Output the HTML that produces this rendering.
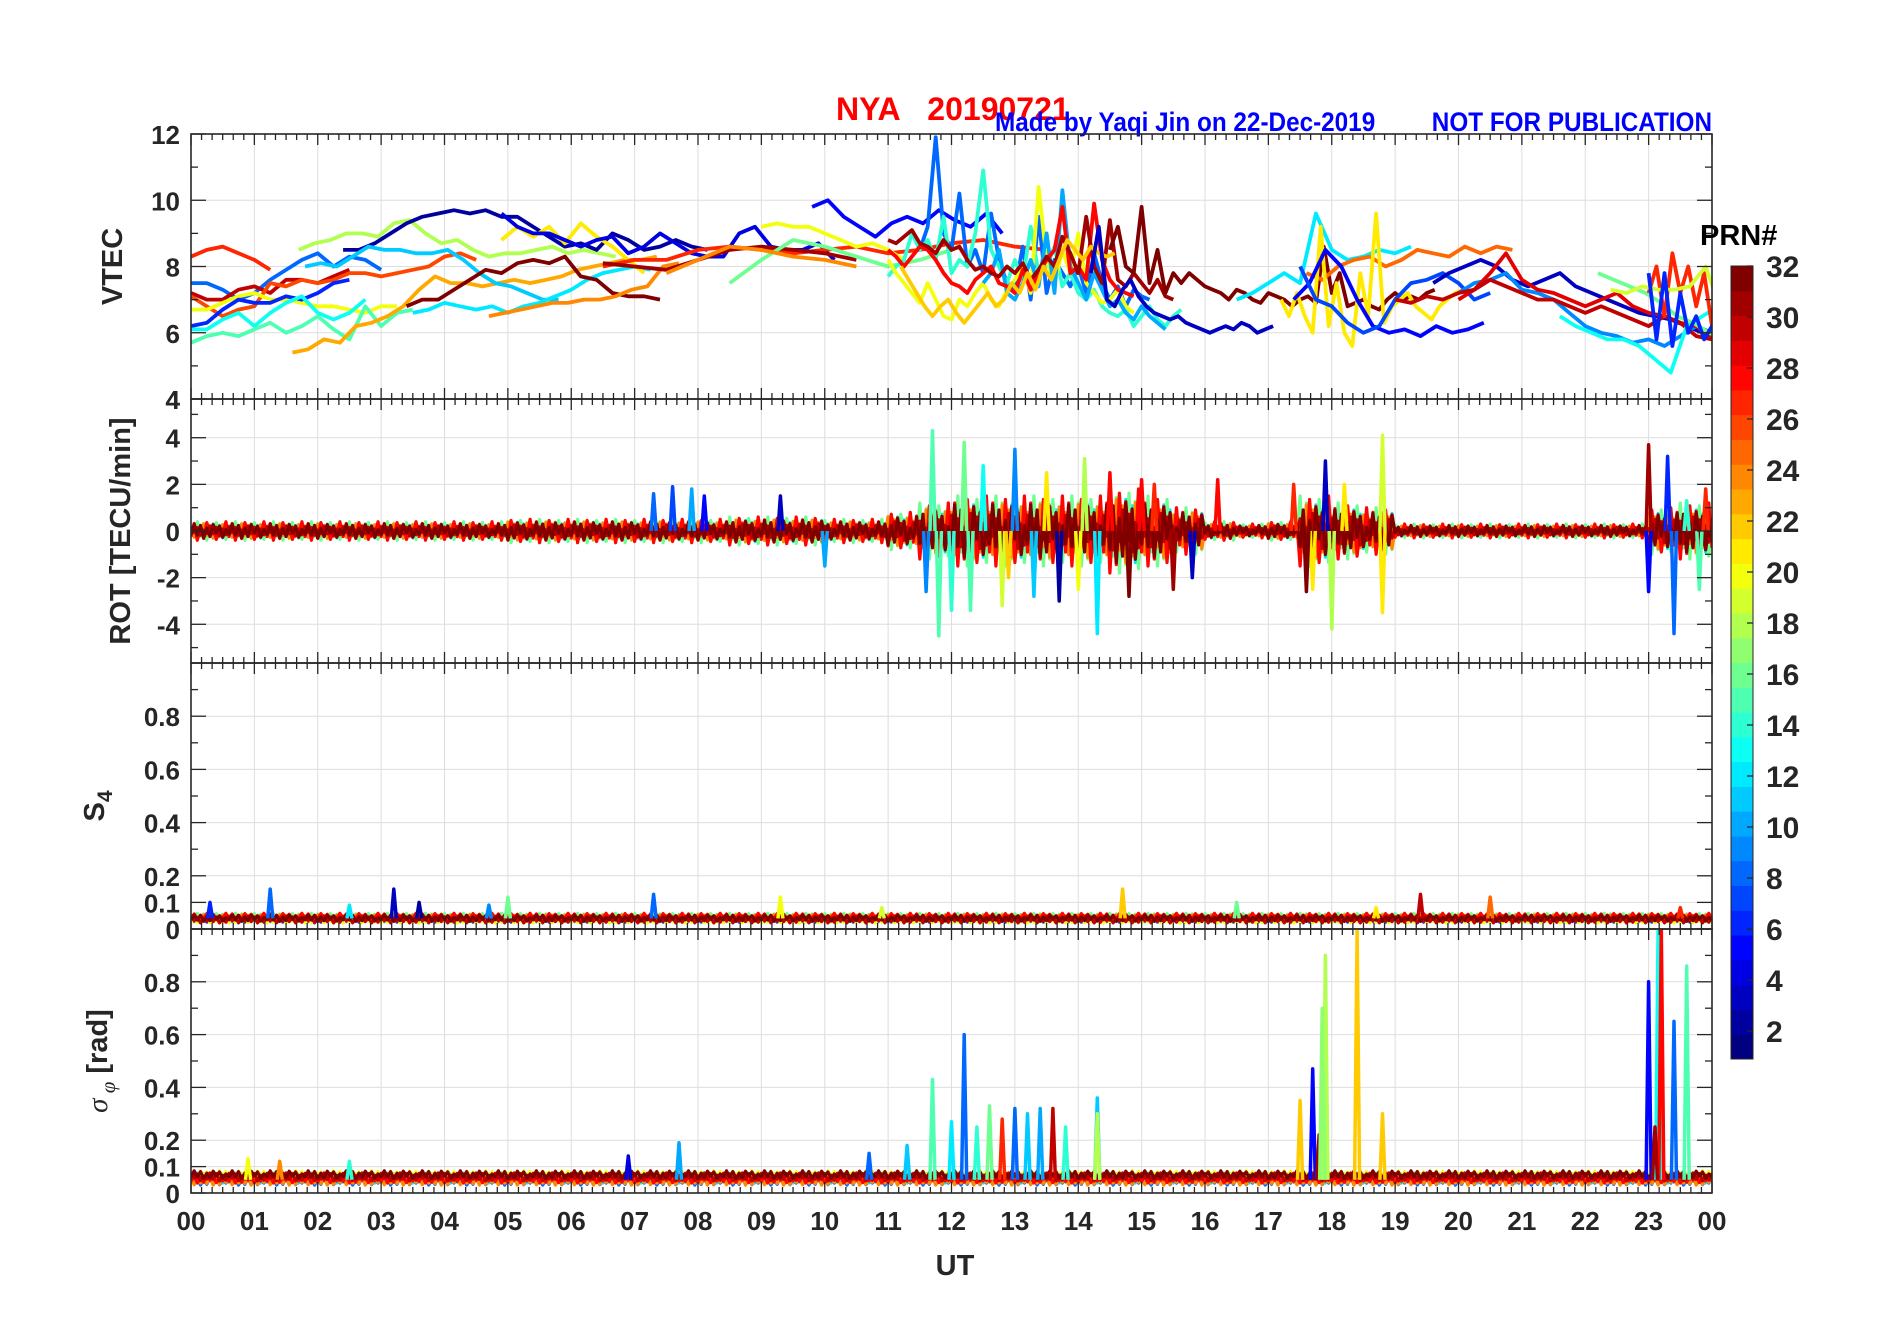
<!DOCTYPE html>
<html><head><meta charset="utf-8"><title>NYA 20190721</title>
<style>
html,body{margin:0;padding:0;background:#fff;}
svg{display:block;font-family:"Liberation Sans",Arial,sans-serif;}
.tk{font-size:26px;font-weight:bold;fill:#262626;}
</style></head>
<body>
<svg id="chart" width="1902" height="1330" viewBox="0 0 1902 1330" xmlns="http://www.w3.org/2000/svg">
<text x="836" y="120" font-size="32" font-weight="bold" fill="#ff0000">NYA&#160;&#160;&#160;20190721</text>
<text x="995" y="131" font-size="27" font-weight="bold" fill="#0000ff" transform="translate(995 0) scale(0.9 1) translate(-995 0)">Made by Yaqi Jin on 22-Dec-2019</text>
<text x="1712" y="131" font-size="27" font-weight="bold" fill="#0000ff" text-anchor="end" transform="translate(1712 0) scale(0.9 1) translate(-1712 0)">NOT FOR PUBLICATION</text>
<g id="panels"></g>
<g id="cbar"></g>
<text x="955" y="1275" font-size="29" font-weight="bold" fill="#262626" text-anchor="middle">UT</text>
<text x="1700" y="245" font-size="29" font-weight="bold" fill="#000">PRN#</text>
</svg>
<script>
// ---------- data ----------
const hourLabels = ["00","01","02","03","04","05","06","07","08","09","10","11","12","13","14","15","16","17","18","19","20","21","22","23","00"];
const vtecTicks = [4,6,8,10,12];
const rotTicks = [-4,-2,0,2,4];
const s4Ticks = [0,0.1,0.2,0.4,0.6,0.8];
const sigTicks = [0,0.1,0.2,0.4,0.6,0.8];
const prnTicks = [2,4,6,8,10,12,14,16,18,20,22,24,26,28,30,32];
// VTEC tracks: [prn, startHour, stepHour, values]
const vtecTracks = [
 [27,0,0.25,[8.3,8.5,8.6,8.4,8.2,7.9]],
 [8,0,0.25,[7.5,7.5,7.3,7.0,7.2,7.6,7.9,8.2,8.4,8.0,8.3,8.2,7.9]],
 [30,0,0.25,[7.2,7.0,7.0,7.3,7.4,7.2,7.6,7.6,7.5,7.7,7.9]],
 [26,0,0.25,[7.1,6.8,6.5,6.7,6.8,7.5,7.4,7.6,7.5,7.6,7.8,7.8,7.7,7.8,7.9,8.0,8.3,8.4,8.2]],
 [20,0,0.25,[6.7,6.7,6.9,7.1,7.2,7.0,7.0,6.9,6.8,6.8,6.7,6.6,6.8,6.8]],
 [6,0,0.25,[6.2,6.3,6.7,7.0,6.9,6.9,7.1,7.0,7.2,7.5,7.6]],
 [13,0,0.25,[6.1,6.1,6.4,6.6,6.2,6.6,6.9,7.1,6.6,6.4,6.6,7.0]],
 [15,0,0.25,[5.7,5.9,6.0,5.9,6.1,6.3,6.0,6.2,6.5,6.1,5.8,6.8,6.2,6.6,6.7]],
 [23,1.6,0.25,[5.4,5.5,5.8,5.7,6.2,6.3,6.5,6.8,7.3,7.7,7.5,7.5,7.4,7.5,7.6,7.5,7.6,7.7,7.9,8.0,8.1,8.2,8.2,8.3]],
 [18,1.7,0.25,[8.5,8.7,8.8,9.0,9.0,8.9,9.3,9.4,9.0,8.7,8.8,8.5,8.3,8.4,8.4,8.5,8.6,8.4,8.5,8.4,8.3]],
 [2,2.4,0.25,[8.5,8.5,8.7,9.0,9.3,9.5,9.6,9.7,9.6,9.7,9.5,9.5,9.2,8.9,8.6,8.7,8.5,9.0,8.8,8.5,8.6,8.8,8.6,8.5]],
 [11,1.8,0.25,[8.0,8.1,8.0,8.3,8.6,8.5,8.5,8.4,8.4,8.5,8.2,7.8,7.5,7.4,7.2,7.0,7.0]],
 [12,3.5,0.25,[6.6,6.7,6.9,6.8,6.7,6.8,6.6,6.8,6.9,7.1,7.3,7.6,7.8,7.9,8.0,7.9]],
 [32,3.4,0.25,[6.8,7.0,7.0,7.3,7.6,7.9,7.8,8.1,8.2,8.1,8.3,7.7,7.6,7.2,7.1,7.1,7.0]],
 [24,4.7,0.25,[6.5,6.6,6.7,6.8,6.9,6.9,7.0,7.0,7.1,7.3,7.4,8.0,8.1]],
 [21,4.9,0.25,[8.8,9.2,8.9,9.2,8.7,9.3,8.9,8.6,8.2,7.8]],
 [4,4.9,0.25,[9.6,9.2,9.0,9.0,8.8,8.6,8.8,8.9,8.4,8.6,9.0,8.7,8.4,8.3,8.3,9.0,9.2,8.6,8.5,8.5,8.7,8.2]],
 [27,6.5,0.5,[8.0,8.2,8.2,8.5,8.6,8.5,8.4,8.5,8.6,8.4,8.5,8.7,8.8,8.6,8.5]],
 [31,6.5,0.5,[8.1,8.0,7.9,8.2,8.5,8.6,8.5,8.4,8.2]],
 [20,9.0,0.25,[9.2,9.3,9.2,9.2,9.0,8.8,8.6,8.7,8.5,8.2]],
 [5,9.8,0.25,[9.8,10.0,9.5,9.2,8.9,9.3,9.5,9.3,9.7,9.4,9.2,9.6,9.0]],
 [16,8.5,0.5,[7.5,8.2,8.8,8.6,8.3,8.0,8.2,8.5]],
 [24,7.5,0.5,[7.8,8.2,8.6,8.5,8.3,8.2,8.0]],
 [8,11.5,0.125,[8.5,9.2,11.9,9.0,8.5,10.2,8.0,8.5,7.8,9.6,8.2,7.5,7.3,8.6,7.0,9.5,7.2,8.2,7.8,7.4,8.0,7.2,8.4,7.5,7.0,7.4,6.8,7.3,7.1,7.0]],
 [14,11.0,0.125,[7.7,8.0,8.2,9.0,8.5,8.8,8.2,9.5,7.8,8.2,8.0,9.0,10.9,8.5,8.0,7.5,8.2,7.6,9.2,7.8,8.0,8.6,7.4,7.8,7.2,7.0,7.3,6.8,6.6,6.5,6.7,6.2,6.5,6.8,6.4,6.2,6.5,6.7]],
 [20,11.0,0.125,[8.2,7.8,7.5,7.2,6.9,7.5,7.0,6.5,6.4,7.0,6.8,7.2,7.5,7.0,6.8,7.3,7.6,8.0,7.2,10.4,8.2,7.5,8.5,7.8,9.0,7.5,7.2,6.9,7.0,7.3,6.8,6.6]],
 [10,12.5,0.125,[7.5,7.8,8.5,7.2,7.0,7.5,8.2,7.4,9.0,7.2,10.3,8.0,7.5,7.0,7.8,7.3,6.8,7.0,6.6,6.4,6.8,6.5,6.3,6.1]],
 [28,11.0,0.125,[8.5,8.3,8.0,8.3,8.6,8.5,8.2,7.8,7.5,7.4,7.2,7.6,7.8,8.0,7.5,7.4,7.2,7.9,7.3,7.8,8.2,8.5,9.8,7.8,8.0,7.6,9.9,8.2,7.6,7.3,7.2,7.1]],
 [31,11.0,0.125,[8.8,8.7,8.9,9.1,8.7,8.6,8.4,8.8,8.5,8.6,8.2,7.9,8.0,7.8,7.7,8.0,7.8,8.1,7.6,7.9,8.3,8.0,8.9,8.4,7.8,9.5,8.0,7.5,9.4,7.6,7.4,7.8,7.5,7.2,7.6,7.1,7.0]],
 [22,11.2,0.125,[8.0,7.6,7.2,6.8,6.5,6.8,7.0,6.6,6.3,6.6,6.9,7.2,6.8,7.0,7.5,7.2,7.8,7.3,8.0,7.6,8.2,8.8,8.5,8.2,8.6,8.4,8.3,8.4]],
 [3,14.2,0.125,[7.8,9.2,7.0,6.8,7.3,7.6,7.1,6.8,6.6,6.5,6.4,6.5,6.3,6.2,6.1,6.0,6.1,6.2,6.1,6.3,6.2,6.0,6.1,6.2]],
 [32,14.5,0.125,[8.5,9.2,8.0,7.8,9.8,7.5,8.5,7.2,7.8,7.5,7.8,7.6,7.4,7.3,7.2,7.0,7.3,7.2,7.0,6.9,7.2,7.1,7.0,6.8,7.0,7.1,6.9,8.6,7.2,7.8,6.8,6.9,7.0,6.8,6.7,7.0,7.2,7.0,7.1,7.0,7.2,7.3]],
 [12,16.5,0.25,[7.0,7.2,7.5,7.8,7.5,9.6,8.5,8.2,8.3,8.5,8.4,8.6]],
 [25,17.6,0.25,[7.8,7.6,8.0,8.2,8.3,8.0,8.2,8.5,8.4,8.3,8.6,8.4,8.6,8.5]],
 [21,17.2,0.125,[7.0,6.5,7.2,6.5,6.0,9.2,6.2,7.5,6.0,5.6,7.8,6.5,9.6,6.3,6.8,7.0,7.2,6.8,6.6,6.4,6.8,7.0,7.2,7.3]],
 [5,17.4,0.25,[7.0,7.5,8.5,8.0,7.0,6.2,6.0,6.1,5.9,6.2,6.0,6.1,6.3]],
 [7,17.5,0.25,[8.0,7.0,6.8,6.3,6.0,6.2,7.0,7.5,7.6,7.8,7.5,7.0,7.2]],
 [3,19.6,0.25,[7.5,7.8,8.0,8.2,8.0,7.6,7.4,7.6,7.8,7.4,7.2,7.0,6.8,6.6,6.5,6.4,6.2,6.0,5.9,6.1,6.0,6.2,6.0,5.8]],
 [9,20.0,0.25,[7.2,7.5,7.6,7.8,7.3,7.2,7.0,6.6,6.2,6.0,5.9,5.7,5.8,5.6,5.9,6.2,6.0,5.8]],
 [29,20.0,0.25,[7.0,7.3,7.8,8.4,7.6,7.3,7.2,7.0,6.8,7.0,7.2,6.8,6.6,6.5,6.3,6.2,5.8,6.0,5.7]],
 [30,19.0,0.25,[7.0,6.9,7.1,7.0,7.2,7.3,7.6,7.4,7.2,7.0,7.0,6.8,6.6,6.8,6.6,6.4,6.2,6.5,6.3,5.9,5.8,6.0,6.1,9.0,6.3,6.5,6.8,6.0,5.8,6.6,6.2,6.0]],
 [13,21.6,0.25,[6.5,6.2,6.0,5.8,5.8,5.6,5.2,4.8,6.2,6.5,6.8,7.2]],
 [16,22.2,0.25,[7.8,7.6,7.4,7.2,6.9,6.5,6.3,6.0,5.8,5.5,6.5,7.0,7.2,7.0]],
 [27,23.0,0.125,[7.2,8.0,6.5,8.4,7.2,8.0,6.8,7.8,6.2,8.3,7.5,7.8,7.2,6.5,7.6,7.0]],
 [19,22.4,0.25,[7.3,7.2,7.4,7.3,7.3,7.4,8.0,6.6,6.8,6.2,7.2]],
 [6,23.0,0.125,[7.8,5.8,7.8,5.6,7.2,6.0,6.5,5.8,6.2,6.0,5.8,6.1,5.8,5.9,5.7,5.9]]
];
const rotEnv = [0.4,0.4,0.4,0.4,0.4,0.4,0.4,0.4,0.4,0.4,0.5,0.5,0.5,0.5,0.5,0.5,0.5,0.6,0.6,0.6,0.5,0.5,0.8,1.2,
 1.5,1.5,1.5,1.5,1.5,1.8,1.5,1.0,0.4,0.3,0.4,1.5,1.2,1.0,0.3,0.3,0.3,0.3,0.3,0.3,0.3,0.3,1.0,1.2];
const rotSpikes = [[11.6,-2.6,9],[11.7,4.3,15],[11.8,-4.5,15],[12.0,-3.4,14],[12.2,3.8,16],[12.3,-3.4,15],[12.5,2.8,13],[12.8,-3.2,19],[13.0,3.5,9],[13.3,-2.8,11],[13.5,2.5,21],[13.7,-3.0,2],[14.0,-2.5,20],[14.3,-4.4,12],[14.5,2.5,28],[14.8,-2.8,32],[15.0,2.2,28],[15.2,2.0,27],[15.5,-2.5,31],[15.8,-2.0,3],[16.2,2.2,28],[7.3,1.6,8],[7.6,1.9,7],[7.9,1.8,10],[8.1,1.5,5],[9.3,1.5,3],[10.0,-1.5,10],[17.7,-2.5,21],[17.9,3.0,3],[18.0,-4.2,18],[18.2,2.0,21],[18.8,4.1,19],[18.8,-3.5,21],[23.0,3.7,31],[23.0,-2.6,5],[23.3,3.2,6],[23.4,-4.4,8],[23.6,1.3,14],[23.8,-2.5,15],[23.9,1.8,27],[17.4,2.0,27],[17.6,-2.6,32],[12.9,-2.0,22],[14.1,3.1,18]];
const s4Spikes = [[1.25,0.15,8],[3.2,0.15,3],[3.6,0.1,2],[7.3,0.13,8],[9.3,0.12,20],[14.7,0.15,22],[19.4,0.13,30],[5.0,0.12,16],[16.5,0.1,16],[20.5,0.12,25],[0.3,0.1,6],[2.5,0.09,12],[4.7,0.09,9],[10.9,0.08,19],[18.7,0.08,21],[23.5,0.08,27]];
const sigSpikes = [[11.7,0.43,15],[12.2,0.6,8],[12.0,0.27,12],[12.4,0.25,14],[12.6,0.33,16],[12.8,0.28,27],[13.0,0.32,8],[13.2,0.3,11],[13.4,0.32,10],[13.6,0.32,30],[13.8,0.25,14],[14.3,0.36,11],[14.3,0.3,18],[17.5,0.35,22],[17.7,0.47,5],[17.8,0.22,31],[17.9,0.9,18],[17.85,0.7,17],[18.4,1.0,22],[18.8,0.3,22],[23.0,0.8,5],[23.15,1.0,13],[23.2,1.0,28],[23.4,0.65,8],[23.6,0.86,15],[23.1,0.25,31],[7.7,0.19,10],[10.7,0.15,8],[11.3,0.18,11],[0.9,0.13,20],[1.4,0.12,24],[2.5,0.12,14],[6.9,0.14,4]];
const bandPrns = [8,12,16,20,24,28,30,32];
const zigPattern = [1,-0.6,0.8,-1,0.4,-0.8,0.9,-0.3,0.7,-0.9,0.2,-0.5];

const NS="http://www.w3.org/2000/svg";
const X0=191, X1=1712;
const xs = h => X0 + (h/24)*(X1-X0);
const panelDefs = [
 {name:"vtec",top:134,bot:399,min:4,max:12,ticks:vtecTicks,minor:[5,7,9,11],label:"VTEC",lx:122},
 {name:"rot",top:399,bot:663,min:-5.66,max:5.66,ticks:rotTicks,minor:[-5,-3,-1,1,3,5],label:"ROT [TECU/min]",lx:130},
 {name:"s4",top:663,bot:929,min:0,max:1,ticks:s4Ticks,minor:[0.3,0.5,0.7,0.9],label:"S4",lx:104},
 {name:"sigma",top:929,bot:1193,min:0,max:1,ticks:sigTicks,minor:[0.3,0.5,0.7,0.9],label:"sigma",lx:107}
];
function jet(v){
 const t=(v-1)/31;
 const c=x=>Math.max(0,Math.min(1,x));
 const r=c(1.5-Math.abs(4*t-3)), g=c(1.5-Math.abs(4*t-2)), b=c(1.5-Math.abs(4*t-1));
 return `rgb(${Math.round(r*255)},${Math.round(g*255)},${Math.round(b*255)})`;
}
function el(tag,attrs,parent){const e=document.createElementNS(NS,tag);for(const k in attrs)e.setAttribute(k,attrs[k]);parent.appendChild(e);return e;}
const root=document.getElementById('panels');
const defs=el('defs',{},root);
panelDefs.forEach((p,i)=>{
 const cp=el('clipPath',{id:'clip'+i},defs);
 el('rect',{x:X0,y:p.top,width:X1-X0,height:p.bot-p.top},cp);
});
function ys(p,v){return p.bot-(v-p.min)/(p.max-p.min)*(p.bot-p.top);}

panelDefs.forEach((p,pi)=>{
 const g=el('g',{},root);
 
 
 for(let h=1;h<24;h++){const l=el('line',{x1:xs(h),x2:xs(h),y1:p.top,y2:p.bot,stroke:'#dedede','stroke-width':1},g);
  }
 p.ticks.forEach(v=>{if(v<=p.min||v>=p.max)return;const l=el('line',{x1:X0,x2:X1,y1:ys(p,v),y2:ys(p,v),stroke:'#dedede','stroke-width':1},g);
  });
 const dg=el('g',{'clip-path':`url(#clip${pi})`},g);
 
 
 if(p.name==='vtec'){
  vtecTracks.forEach(tr=>{
   const [prn,h0,dh,vals]=tr;
   const pts=vals.map((v,k)=>xs(h0+k*dh).toFixed(1)+','+ys(p,v).toFixed(1)).join(' ');
   const pl=el('polyline',{points:pts,fill:'none',stroke:jet(prn),'stroke-width':3.8,'stroke-linejoin':'round'},dg);
   
   
  });
 } else {
  bandPrns.forEach((prn,bi)=>{
   const pts=[];
   const n=480;
   for(let k=0;k<=n;k++){
    const h=k*24/n;
    const z=zigPattern[(k+bi*5)%zigPattern.length];
    let v;
    if(p.name==='rot'){const e=rotEnv[Math.min(47,Math.floor(h*2))];v=z*e*(0.5+0.5*((bi%3)/2));}
    else if(p.name==='s4'){v=0.035+0.012*z+(bi%3)*0.006;}
    else {v=0.045+0.015*z+(bi%4)*0.008;}
    pts.push(xs(h).toFixed(1)+','+ys(p,v).toFixed(1));
   }
   const pl=el('polyline',{points:pts.join(' '),fill:'none',stroke:jet(prn),'stroke-width':3.2,'stroke-linejoin':'round'},dg);
   
   
  });
  const spikes = p.name==='rot'?rotSpikes:(p.name==='s4'?s4Spikes:sigSpikes);
  const base = p.name==='rot'?0:(p.name==='s4'?0.04:0.05);
  spikes.forEach(s=>{
   const [h,v,prn]=s;
   const pts=[xs(h-0.04),ys(p,base),xs(h),ys(p,v),xs(h+0.04),ys(p,base)].map(n=>n.toFixed(1));
   const pl=el('polyline',{points:`${pts[0]},${pts[1]} ${pts[2]},${pts[3]} ${pts[4]},${pts[5]}`,fill:'none',stroke:jet(prn),'stroke-width':3.5,'stroke-linejoin':'round'},dg);
   
   
  });
 }
 const tk=el('g',{stroke:'#262626','stroke-width':1.3},g);
 for(let m=0;m<=144;m++){
  const x=xs(m/6), len=(m%6===0)?11:6;
  el('line',{x1:x,x2:x,y1:p.top,y2:p.top+len},tk);
  el('line',{x1:x,x2:x,y1:p.bot,y2:p.bot-len},tk);
 }
 p.ticks.concat(p.minor).forEach(v=>{const y=ys(p,v);const len=p.ticks.includes(v)?15:7;
  el('line',{x1:X0,x2:X0+len,y1:y,y2:y},tk);el('line',{x1:X1,x2:X1-len,y1:y,y2:y},tk);});
 const fr=el('rect',{x:X0,y:p.top,width:X1-X0,height:p.bot-p.top,fill:'none',stroke:'#262626','stroke-width':1.6},g);
 
 
 p.ticks.forEach(v=>{
  const t=el('text',{x:180,y:ys(p,v)+10,'text-anchor':'end',class:'tk'},g);
  t.textContent=String(v);
  
  
 });
 if(pi===0){const t=el('text',{x:180,y:p.bot+10,'text-anchor':'end',class:'tk'},g);t.textContent='4';
  }
 const cy=(p.top+p.bot)/2;
 const lab=el('text',{x:p.lx,y:cy,'text-anchor':'middle','font-size':29,'font-weight':'bold',fill:'#262626',transform:`rotate(-90 ${p.lx} ${cy})`},g);
 
 
 if(p.name==='s4'){lab.innerHTML='S<tspan font-size="21" dy="8">4</tspan>';lab.setAttribute('y',cy+10);lab.setAttribute('transform',`rotate(-90 ${p.lx} ${cy+10})`);}
 else if(p.name==='sigma'){lab.innerHTML='<tspan font-family="Liberation Serif,serif" font-style="italic" font-weight="normal">σ</tspan><tspan font-size="21" dy="8" font-family="Liberation Serif,serif" font-style="italic" font-weight="normal"> φ</tspan><tspan dy="-8"> [rad]</tspan>';}
 else lab.textContent=p.label;
});
const bot=panelDefs[3].bot;
hourLabels.forEach((s,i)=>{
 const t=el('text',{x:xs(i),y:bot+37,'text-anchor':'middle',class:'tk'},root);
 t.textContent=s;
 
 
});
const cb=document.getElementById('cbar');
const CT=266, CB=1059, CX=1731, CW=22;
for(let k=1;k<=32;k++){
 const h=(CB-CT)/32;
 const r=el('rect',{x:CX,y:CT+(32-k)*h,width:CW,height:h+0.5,fill:jet(k)},cb);
 
 
}
el('rect',{x:CX,y:CT,width:CW,height:CB-CT,fill:'none',stroke:'#262626','stroke-width':1},cb);
prnTicks.forEach(v=>{
 const y=CT+(32-v)*25.5;
 el('line',{x1:CX+CW-6,x2:CX+CW,y1:y,y2:y,stroke:'#262626','stroke-width':1.3},cb);
 const t=el('text',{x:1766,y:y+11,class:'tk'},cb);
 t.setAttribute('style','font-size:30px');
 t.textContent=String(v);
 
 
});
</script>
</body></html>
